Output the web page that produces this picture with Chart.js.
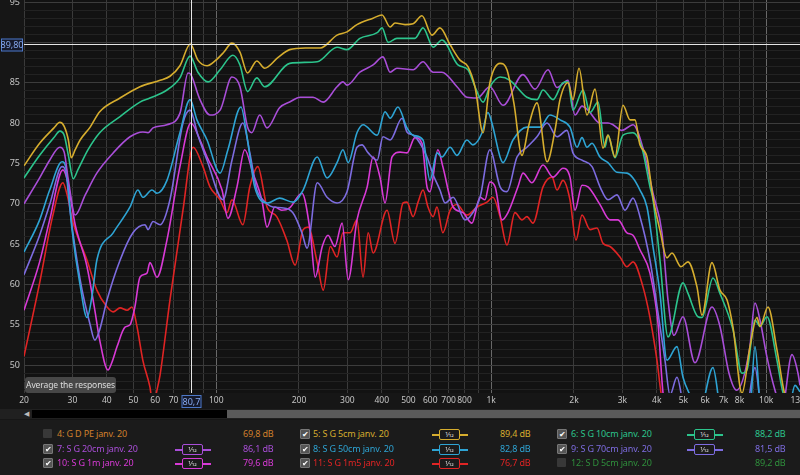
<!DOCTYPE html>
<html lang="fr">
<head>
<meta charset="UTF-8">
<title>SPL - S G janv. 20</title>
<script src="https://cdn.jsdelivr.net/npm/chart.js"></script>
<style>
  body { margin:0; width:800px; height:475px; overflow:hidden; background:#161616; position:relative; font-family:"Noto Sans", sans-serif; }
  #plot { position:absolute; left:0; top:0; }
  .avg { position:absolute; left:25px; top:377px; width:91px; height:16px; background:#474747; border-radius:3px; color:#dcdcdc; font-size:8.5px; line-height:16px; text-align:center; white-space:nowrap; letter-spacing:-0.1px; }
  .scroll { position:absolute; left:0; top:409px; width:800px; height:10px; background:#202020; }
  .scroll .arrow { position:absolute; left:24px; top:0; color:#bbb; font-size:7px; line-height:10px; }
  .scroll .track { position:absolute; left:32px; top:1px; width:195px; height:8px; background:#000; }
  .scroll .thumb { position:absolute; left:227px; top:1px; width:573px; height:8px; background:#5a5a5a; }
  .legend { position:absolute; left:0; top:420px; width:800px; height:55px; background:#1b1b1b; }
  .cb { position:absolute; width:9px; height:9px; border-radius:1px; background:#383838; color:#fff; font-size:8px; line-height:9px; text-align:center; }
  .cb.on { background:#555; border:1px solid #777; width:8px; height:8px; line-height:8px; }
  .name, .lvl { position:absolute; font-size:9px; line-height:12px; white-space:nowrap; letter-spacing:-0.15px; }
  .icon { position:absolute; width:36px; height:11px; }
  .icon .ln { position:absolute; left:0; top:5px; width:36px; height:1.5px; }
  .icon .bx { position:absolute; left:7px; top:0; width:19px; height:9px; border:1.5px solid; border-radius:2px; background:#1b1b1b; font-size:7px; line-height:9px; text-align:center; }
</style>
</head>
<body>
<canvas id="plot" width="800" height="408"></canvas>
<div class="avg">Average the responses</div>
<div class="scroll"><span class="arrow">&#9664;</span><div class="track"></div><div class="thumb"></div></div>
<div class="legend" id="legend"></div>

<script>
// traces (Hz / dB SPL)
const f5cm = [20, 22.8, 25.7, 27.0, 28.0, 29.0, 29.7, 30.7, 32.0, 34.8, 37.7, 44.7, 52.8, 62.5, 67.9, 73.8, 80.5, 85.8, 92.6, 99.0, 106.7, 114, 122, 130, 140.5, 150, 167.5, 185, 211, 239, 275, 299, 325, 372, 401, 429, 447, 486, 520, 560, 609, 651, 709, 770, 823, 873, 934, 989, 1077, 1141, 1210, 1294, 1372, 1467, 1596, 1706, 1779, 1902, 1983, 2086, 2230, 2385, 2550, 2659, 2820, 3015, 3197, 3333, 3475, 3685, 3875, 4109, 4357, 4544, 4899, 5195, 5601, 5840, 6351, 6791, 7200, 7572, 8165, 8731, 9257, 9493, 10151, 10944, 11702, 13272];
const db5cm = [74.7, 77.5, 79.4, 80.1, 79.6, 77.9, 75.7, 76.7, 77.9, 79.5, 81.4, 83.1, 84.5, 85.3, 85.8, 87.1, 89.8, 87.8, 87.1, 87.7, 88.8, 89.9, 88.8, 86.2, 87.7, 86.8, 88.1, 89.1, 89.3, 89.3, 90.9, 91.3, 92.2, 93.0, 93.4, 91.9, 92.4, 92.2, 92.3, 93.3, 90.9, 91.8, 89.7, 87.8, 87.0, 84.5, 78.8, 85.0, 87.4, 86.6, 82.4, 76.0, 79.8, 82.5, 75.2, 79.1, 82.9, 85.0, 82.9, 86.8, 81.0, 84.2, 76.9, 78.5, 75.8, 82.2, 80.4, 80.4, 77.3, 75.8, 70.8, 66.7, 63.3, 63.9, 62.2, 62.8, 59.7, 56.2, 62.7, 59.3, 58.1, 54.7, 46.5, 52.3, 55.9, 54.8, 57.2, 51.9, 46.3, 44];

const f10cm = [20, 22.8, 25.7, 27.0, 28.0, 29.0, 30.2, 31.4, 34.2, 37.7, 44.7, 52.8, 57.4, 66.2, 73.8, 80.3, 85.8, 93.4, 103.3, 115, 122, 130, 140.5, 150, 185, 233, 275, 299, 333, 385, 401, 422, 454, 507, 528, 565, 615, 662, 757, 823, 873, 934, 989, 1077, 1170, 1349, 1467, 1543, 1678, 1824, 1902, 1983, 2157, 2287, 2446, 2593, 2659, 2820, 3015, 3278, 3534, 3779, 3875, 4109, 4394, 4982, 5195, 5648, 5840, 6404, 6791, 7572, 8165, 8514, 9104, 9493, 10065, 10944, 11509, 13272];
const db10cm = [73.2, 76.0, 78.2, 79.0, 78.5, 76.0, 73.1, 74.2, 76.7, 78.8, 80.8, 82.6, 83.1, 84.1, 85.6, 88.3, 86.3, 85.1, 86.6, 88.4, 87.2, 83.9, 85.6, 84.5, 87.4, 87.6, 89.4, 89.1, 90.5, 91.2, 91.8, 90.0, 90.5, 90.5, 90.5, 91.8, 89.4, 90.3, 87.2, 86.6, 84.5, 82.6, 84.5, 85.7, 85.3, 83.2, 82.9, 84.1, 82.9, 85.0, 85.1, 81.6, 84.1, 81.3, 82.6, 77.0, 78.5, 75.7, 78.5, 78.8, 76.9, 72.1, 70.5, 63.0, 53.5, 60.2, 58.9, 56.0, 55.9, 60.8, 58.9, 54.4, 49.0, 49.4, 55.6, 54.8, 56.0, 50.6, 46.6, 44];

const f20cm = [20, 22.8, 24.8, 27.0, 28.0, 29.0, 30.7, 33.4, 36.8, 42.2, 48.6, 54.1, 56.5, 58.9, 66.2, 73.8, 79.0, 80.9, 87.3, 94.9, 103.3, 114.1, 122, 130, 134.7, 144, 153, 170, 185, 202, 225, 245, 275, 289, 299, 333, 372, 404, 429, 454, 520, 565, 615, 662, 751, 816, 888, 989, 1104, 1305, 1443, 1609, 1735, 1902, 2017, 2139, 2249, 2487, 2659, 2772, 2990, 3278, 3564, 3875, 4179, 4394, 4620, 4982, 5508, 6351, 6791, 7323, 7800, 8700, 9104, 9493, 10065, 10763, 11400, 12409, 13050, 13272];
const db20cm = [70.0, 73.2, 75.4, 77.0, 76.4, 72.9, 68.6, 71.1, 73.8, 76.3, 78.3, 78.9, 78.8, 79.4, 79.8, 81.2, 86.2, 86.0, 82.9, 81.0, 81.6, 85.7, 84.5, 79.5, 78.8, 81.0, 79.4, 81.9, 82.6, 83.2, 83.2, 82.6, 84.5, 85.1, 84.7, 86.3, 87.2, 88.2, 86.3, 86.8, 86.6, 87.6, 86.3, 86.3, 84.5, 83.2, 83.1, 84.5, 82.2, 86.0, 84.2, 86.6, 84.4, 85.3, 81.0, 82.1, 81.6, 80.0, 80.0, 79.8, 79.1, 79.8, 76.9, 71.3, 66.4, 58.1, 53.7, 56.0, 50.3, 57.2, 54.8, 49.0, 46.9, 52.0, 57.7, 55.6, 51.0, 46.9, 44.5, 51.3, 49.0, 47.5];

const f50cm = [20, 22.8, 24.8, 27.5, 28.5, 29.9, 32.0, 33.9, 35.4, 36.8, 42.2, 48.6, 51.9, 54.1, 58.4, 60.9, 66.2, 73.8, 80.3, 85.1, 92.6, 103.3, 110.3, 123, 130, 138, 154, 170, 190, 207, 233, 253, 275, 289, 302, 325, 342, 385, 411, 429, 458, 494, 520, 565, 599, 635, 662, 709, 751, 816, 858, 926, 973, 1006, 1077, 1104, 1200, 1349, 1505, 1636, 1779, 1934, 2051, 2139, 2230, 2326, 2487, 2659, 2867, 3117, 3278, 3475, 3685, 3875, 4109, 4357, 4737, 4982, 5283, 5700, 6404, 6900, 8700, 9104, 9600, 12000, 12725, 13272];
const db50cm = [64.0, 68.0, 71.7, 75.2, 74.2, 66.8, 59.9, 55.9, 58.7, 63.0, 66.4, 69.6, 71.7, 70.8, 71.7, 71.3, 72.9, 78.8, 82.9, 80.4, 77.9, 73.8, 76.7, 82.0, 77.9, 72.1, 70.1, 70.7, 70.2, 71.7, 75.8, 73.2, 75.1, 76.7, 75.1, 78.8, 79.8, 78.5, 81.4, 80.6, 82.0, 79.4, 78.5, 77.9, 72.9, 76.3, 75.8, 77.0, 76.0, 77.9, 77.3, 78.8, 81.3, 80.0, 75.8, 75.1, 77.9, 79.5, 79.5, 81.0, 80.4, 79.5, 77.0, 78.2, 77.0, 77.5, 75.8, 75.1, 73.9, 73.8, 73.2, 71.7, 69.6, 64.7, 58.9, 50.6, 52.3, 48.5, 46.3, 44, 49.7, 44, 44, 52.3, 44, 44, 47.5, 46.7];

const f70cm = [20, 22.8, 24.8, 27.5, 28.5, 29.4, 32.0, 34.8, 36.2, 37.7, 40.1, 44.7, 49.8, 55.1, 56.5, 58.9, 62.5, 67.9, 75.7, 80.3, 85.8, 92.6, 105.9, 114.1, 125, 132.5, 140.5, 147.7, 160.7, 173, 190, 205, 214, 233, 253, 275, 299, 325, 339, 357, 385, 404, 429, 474, 494, 520, 551, 584, 615, 651, 680, 727, 803, 837, 911, 989, 1077, 1141, 1241, 1349, 1467, 1596, 1735, 1886, 1983, 2139, 2326, 2487, 2659, 2867, 3066, 3278, 3475, 3779, 4041, 4285, 4468, 4737, 5100, 8400, 9104, 9700, 13272];
const db70cm = [61.2, 66.1, 69.9, 74.6, 73.6, 69.2, 60.6, 55.0, 53.1, 54.4, 58.1, 63.0, 66.4, 67.4, 66.8, 67.8, 67.4, 70.5, 80.0, 81.6, 78.5, 75.4, 70.5, 75.4, 80.0, 76.3, 71.7, 70.5, 69.6, 69.5, 68.9, 66.4, 64.5, 72.6, 70.8, 70.1, 71.5, 77.0, 77.3, 76.3, 75.4, 78.3, 77.9, 80.6, 78.9, 78.5, 77.5, 75.8, 73.6, 71.7, 70.1, 70.8, 68.0, 68.4, 70.8, 76.7, 72.1, 71.5, 75.8, 77.0, 78.3, 80.0, 78.3, 79.1, 76.3, 75.4, 74.6, 72.1, 70.5, 71.1, 69.2, 70.7, 68.4, 63.0, 56.5, 50.6, 46.3, 48.5, 44, 44, 49.7, 44, 44];

const f1m = [20, 22.8, 24.8, 27.7, 28.7, 30.7, 33.9, 36.2, 37.7, 40.4, 41.8, 43.6, 46.6, 48.6, 50.6, 52.8, 56.0, 57.4, 60.9, 66.2, 73.8, 80.9, 87.3, 92.6, 105.0, 110.3, 119, 127, 136, 146.5, 153, 163.4, 173, 185, 205, 220, 229, 243, 255, 270, 287, 302, 325, 354, 372, 394, 411, 436, 466, 494, 528, 560, 584, 599, 640, 667, 727, 789, 851, 911, 949, 989, 1033, 1095, 1151, 1251, 1305, 1407, 1543, 1678, 1824, 1934, 2017, 2139, 2249, 2487, 2703, 2891, 3117, 3278, 3475, 3779, 4041, 4214, 4400, 13272];
const db1m = [56.8, 62.8, 68.0, 74.2, 73.0, 67.4, 62.2, 56.8, 53.1, 49.4, 50.4, 52.3, 54.7, 55.0, 57.2, 60.9, 61.4, 62.7, 60.9, 65.5, 74.6, 80.0, 77.9, 75.8, 71.7, 68.2, 72.1, 76.7, 73.8, 70.5, 67.1, 69.6, 69.2, 69.5, 71.3, 66.4, 60.9, 64.7, 66.1, 64.7, 67.6, 60.6, 68.0, 72.1, 75.8, 73.3, 70.1, 75.8, 76.4, 76.3, 78.2, 77.5, 72.1, 71.5, 76.7, 74.6, 69.6, 68.9, 67.6, 70.8, 70.5, 72.7, 72.1, 68.0, 68.9, 72.1, 73.8, 72.6, 74.8, 73.3, 74.4, 73.3, 69.2, 72.3, 72.1, 69.9, 68.0, 68.0, 66.4, 66.1, 64.3, 61.4, 55.2, 46.6, 44, 44];

const f1m5 = [20, 22.8, 25.4, 27.7, 28.7, 30.2, 33.9, 36.8, 40.1, 42.2, 44.7, 47.4, 49.4, 51.5, 54.1, 57.4, 58.9, 60.9, 62.5, 67.9, 75.7, 82.4, 89.5, 94.9, 103.3, 109.4, 114.1, 125, 132.5, 141.7, 153, 166, 180.5, 193.6, 207, 216, 233, 245, 260, 275, 289, 307, 325, 342, 357, 372, 418, 447, 478, 494, 520, 542, 565, 589, 615, 635, 667, 709, 751, 816, 888, 965, 1015, 1077, 1141, 1220, 1294, 1349, 1419, 1543, 1664, 1735, 1824, 1934, 2034, 2139, 2287, 2425, 2550, 2703, 2940, 3117, 3278, 3564, 3779, 4007, 4144, 4300, 13272];
const db1m5 = [51.1, 60.2, 68.4, 72.6, 71.1, 67.6, 63.0, 59.3, 57.2, 56.6, 57.1, 56.8, 57.2, 54.8, 50.6, 47.3, 45, 46.9, 48.8, 58.1, 69.2, 77.0, 74.6, 72.1, 70.5, 68.9, 70.5, 67.4, 72.1, 74.6, 69.6, 68.4, 65.5, 62.4, 66.8, 67.1, 62.7, 59.3, 64.7, 63.4, 66.4, 66.4, 68.0, 60.9, 66.4, 63.9, 69.2, 65.1, 70.1, 70.2, 68.4, 70.2, 71.7, 69.6, 68.4, 69.6, 66.4, 69.2, 69.9, 68.6, 69.6, 70.2, 70.8, 68.4, 64.9, 68.9, 68.0, 68.4, 67.6, 72.1, 73.3, 71.7, 72.9, 70.5, 65.5, 68.6, 66.8, 67.0, 65.1, 64.7, 63.4, 62.2, 62.8, 59.7, 55.9, 50.6, 46.6, 44, 44];

// axes
const xTickValues = [20, 30, 40, 50, 60, 70, 80, 90, 100, 200, 300, 400, 500, 600, 700, 800, 900, 1000, 2000, 3000, 4000, 5000, 6000, 7000, 8000, 9000, 10000, 13000];
const xTickLabels = ['20', '30', '40', '50', '60', '70', '', '', '100', '200', '300', '400', '500', '600', '700', '800', '', '1k', '2k', '3k', '4k', '5k', '6k', '7k', '8k', '', '10k', '13k'];
const yLabelValues = [50, 55, 60, 65, 70, 75, 80, 85, 95];
const cursorFreq = 80.7;
const cursorLevel = 89.80;

// legend table
const legendNames = ['4: G D PE janv. 20', '5: S G 5cm janv. 20', '6: S G 10cm janv. 20', '7: S G 20cm janv. 20', '8: S G 50cm janv. 20', '9: S G 70cm janv. 20', '10: S G 1m janv. 20', '11: S G 1m5 janv. 20', '12: S D 5cm janv. 20'];
const legendLevels = ['69,8 dB', '89,4 dB', '88,2 dB', '86,1 dB', '82,8 dB', '81,5 dB', '79,6 dB', '76,7 dB', '89,2 dB'];
const legendColors = ['#d0802c', '#d6ad2e', '#2cc48c', '#a94ed8', '#2ea4d4', '#7d6ce0', '#d83ad6', '#e02424', '#2f8f3c'];
const legendChecked = [false, true, true, true, true, true, true, true, false];

const traces = [
    { f: f5cm, db: db5cm, color: legendColors[1] },
    { f: f10cm, db: db10cm, color: legendColors[2] },
    { f: f20cm, db: db20cm, color: legendColors[3] },
    { f: f50cm, db: db50cm, color: legendColors[4] },
    { f: f70cm, db: db70cm, color: legendColors[5] },
    { f: f1m, db: db1m, color: legendColors[6] },
    { f: f1m5, db: db1m5, color: legendColors[7] }
];

const cursorPlugin = {
    id: 'cursor',
    beforeDraw(chart) {
        const { ctx, chartArea: a } = chart;
        ctx.save();
        ctx.fillStyle = '#121212';
        ctx.fillRect(a.left, a.top, a.right - a.left, a.bottom - a.top);
        ctx.restore();
    },
    afterDraw(chart) {
        const { ctx, chartArea: a, scales } = chart;
        const cx = Math.round(scales.x.getPixelForValue(cursorFreq)) + 0.5;
        const cy = Math.round(scales.y.getPixelForValue(cursorLevel)) + 0.5;
        ctx.save();
        ctx.strokeStyle = '#e6e6e6';
        ctx.lineWidth = 1;
        ctx.beginPath();
        ctx.moveTo(cx, a.top); ctx.lineTo(cx, a.bottom);
        ctx.moveTo(a.left, cy); ctx.lineTo(a.right, cy);
        ctx.stroke();

        // value boxes on the axes
        ctx.font = '9px "Noto Sans"';
        ctx.textAlign = 'center';
        ctx.textBaseline = 'middle';
        const box = (x, y, w, h, txt) => {
            ctx.fillStyle = '#15192a';
            ctx.fillRect(x, y, w, h);
            ctx.strokeStyle = '#4d78c8';
            ctx.strokeRect(x + 0.5, y + 0.5, w - 1, h - 1);
            ctx.fillStyle = '#86a8ee';
            ctx.fillText(txt, x + w / 2, y + h / 2 + 0.5);
        };
        box(1, cy - 6, 22, 13, cursorLevel.toFixed(2).replace('.', ','));
        box(cx - 10, a.bottom + 2, 20, 13, String(cursorFreq).replace('.', ','));
        ctx.restore();
    }
};

new Chart(document.getElementById('plot'), {
    type: 'line',
    data: {
        datasets: traces.map(t => ({
            data: t.f.map((f, i) => ({ x: f, y: t.db[i] })),
            borderColor: t.color,
            borderWidth: 1.6,
            pointRadius: 0,
            cubicInterpolationMode: 'monotone',
            fill: false
        }))
    },
    options: {
        responsive: false,
        animation: false,
        events: [],
        layout: { padding: 0 },
        plugins: { legend: { display: false }, tooltip: { enabled: false } },
        scales: {
            x: {
                type: 'logarithmic',
                min: 20,
                max: 13272,
                afterBuildTicks: s => { s.ticks = xTickValues.map(v => ({ value: v })); },
                afterFit: s => { s.height = 15; s.paddingLeft = 0; s.paddingRight = 0; },
                ticks: {
                    autoSkip: false,
                    maxRotation: 0,
                    padding: 2,
                    color: '#c4c4c4',
                    font: { family: 'Noto Sans', size: 8.5 },
                    callback: (v, i) => xTickLabels[i]
                },
                grid: {
                    drawTicks: false,
                    color: c => {
                        const v = c.tick ? c.tick.value : 0;
                        if (v === 13000) return 'rgba(0,0,0,0)';
                        return (v === 100 || v === 1000 || v === 10000) ? '#686868' : '#3a3a3a';
                    }
                },
                border: { display: false }
            },
            y: {
                type: 'linear',
                min: 46.55,
                max: 95.25,
                afterBuildTicks: s => {
                    const t = [];
                    for (let v = 47; v <= 95; v++) t.push({ value: v });
                    s.ticks = t;
                },
                afterFit: s => { s.width = 24; s.paddingTop = 0; s.paddingBottom = 0; },
                ticks: {
                    autoSkip: false,
                    padding: 4,
                    color: '#c4c4c4',
                    font: { family: 'Noto Sans', size: 9 },
                    callback: v => yLabelValues.includes(v) ? String(v) : ''
                },
                grid: {
                    drawTicks: false,
                    color: c => (c.tick && c.tick.value % 5 === 0) ? '#3c3c3c' : '#222222'
                },
                border: { display: false }
            }
        }
    },
    plugins: [cursorPlugin]
});

// legend rows below the graph
const legendCols = [
    { box: 43, text: 57, icon: 175, level: 243 },
    { box: 300, text: 313, icon: 432, level: 500 },
    { box: 557, text: 571, icon: 687, level: 755 }
];
const legendRows = [14, 29, 43];
const legend = document.getElementById('legend');
legendNames.forEach((name, i) => {
    const col = legendCols[i % 3];
    const cy = legendRows[Math.floor(i / 3)];
    const color = legendColors[i];
    const cb = document.createElement('div');
    cb.className = 'cb' + (legendChecked[i] ? ' on' : '');
    cb.style.left = col.box + 'px';
    cb.style.top = (cy - 5) + 'px';
    cb.textContent = legendChecked[i] ? '\u2714' : '';
    legend.appendChild(cb);

    const nm = document.createElement('div');
    nm.className = 'name';
    nm.style.left = col.text + 'px';
    nm.style.top = (cy - 6) + 'px';
    nm.style.color = color;
    nm.textContent = name;
    legend.appendChild(nm);

    if (legendChecked[i]) {
        const ic = document.createElement('div');
        ic.className = 'icon';
        ic.style.left = col.icon + 'px';
        ic.style.top = (cy - 5) + 'px';
        ic.innerHTML = '<div class="ln" style="background:' + color + '"></div>' +
            '<div class="bx" style="border-color:' + color + ';color:#e0e0e0">1&frasl;12</div>';
        legend.appendChild(ic);
    }

    const lv = document.createElement('div');
    lv.className = 'lvl';
    lv.style.left = col.level + 'px';
    lv.style.top = (cy - 6) + 'px';
    lv.style.color = color;
    lv.textContent = legendLevels[i];
    legend.appendChild(lv);
});
</script>
</body>
</html>
